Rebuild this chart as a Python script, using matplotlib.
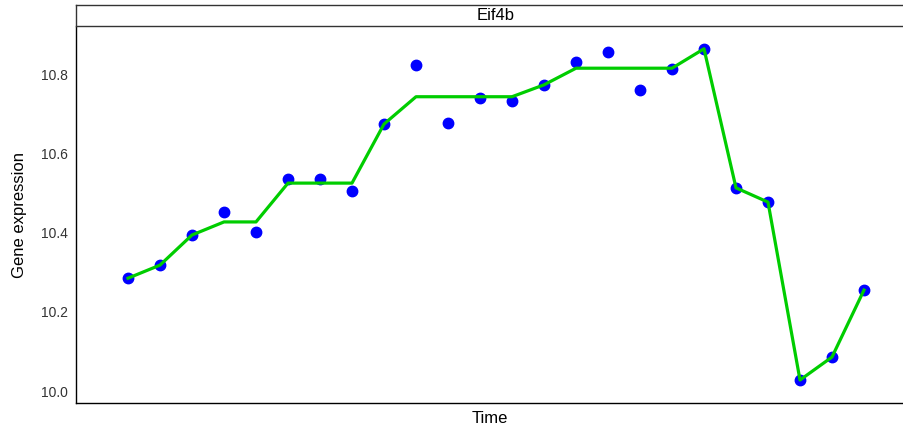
import matplotlib.pyplot as plt

plt.rcParams['font.family'] = ['Liberation Sans', 'DejaVu Sans']

gene = "Eif4b"
time_points = list(range(1, 25))
expression = [10.285, 10.318, 10.394, 10.452, 10.401, 10.535, 10.535, 10.505,
              10.674, 10.823, 10.677, 10.740, 10.732, 10.773, 10.831, 10.856,
              10.760, 10.813, 10.864, 10.513, 10.477, 10.028, 10.086, 10.255]
fitted = [10.285, 10.318, 10.394, 10.427, 10.427, 10.525, 10.525, 10.525,
          10.674, 10.743, 10.743, 10.743, 10.743, 10.773, 10.815, 10.815,
          10.815, 10.815, 10.864, 10.513, 10.477, 10.028, 10.086, 10.255]
y_ticks = [10.0, 10.2, 10.4, 10.6, 10.8]

fig = plt.figure(figsize=(9.04, 4.29), dpi=100)
ax = fig.add_axes([76 / 904, 26 / 429, 828 / 904, 376 / 429])

ax.plot(time_points, expression, "o", color="#0000FF", markersize=7.5, zorder=2)
ax.plot(time_points, fitted, "-", color="#00CD00", linewidth=2.3, zorder=3)

ax.set_xlim(-0.625, 25.25)
ax.set_ylim(9.970, 10.919)
ax.set_xticks([])
ax.set_yticks(y_ticks)
ax.set_yticklabels([f"{v:.1f}" for v in y_ticks])
ax.tick_params(axis="y", length=0, pad=6, labelsize=10, labelcolor="#333333")
ax.spines["top"].set_visible(False)
ax.spines["right"].set_visible(False)
ax.spines["left"].set_linewidth(1.0)
ax.spines["bottom"].set_linewidth(1.0)
ax.set_xlabel("Time", fontsize=12, labelpad=6)
ax.set_ylabel("Gene expression", fontsize=12, labelpad=10)

# facet strip
strip = fig.add_axes([76 / 904, 403 / 429, 828 / 904, 21 / 429])
strip.set_xticks([])
strip.set_yticks([])
for s in strip.spines.values():
    s.set_linewidth(1.0)
    s.set_edgecolor("#333333")
strip.text((496 - 76) / 828, 0.5, gene, transform=strip.transAxes,
           ha="center", va="center", fontsize=12)

fig.savefig("out.png", dpi=100)
